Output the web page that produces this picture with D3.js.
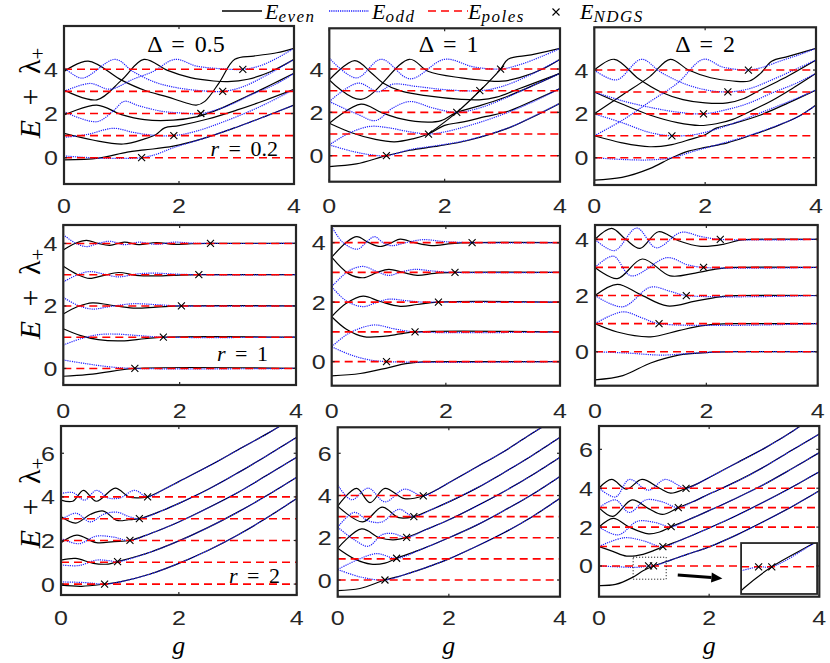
<!DOCTYPE html>
<html>
<head>
<meta charset="utf-8">
<script src="https://cdn.jsdelivr.net/npm/d3@7"></script>
<style>
body { margin: 0; background: #fff; }
svg { display: block; }
.tk { font-family: "Liberation Sans", Arial, sans-serif; font-size: 20px; fill: #262626; }
.mth { font-family: "Liberation Serif", "DejaVu Serif", "Times New Roman", serif; fill: #000; }
</style>
</head>
<body>
<svg id="fig" width="830" height="663"></svg>
<script>
// ---- data (g, E + lambda) ----
const poles = [0, 1, 2, 3, 4];
const xTicks = [0, 2, 4];
const yTicksSmall = [0, 2, 4];
const yTicksBig = [0, 2, 4, 6];
const deltas = ["0.5", "1", "2"];
const rValues = ["0.2", "1", "2"];

// row 1 : r = 0.2
const tlEven = [
  [[0,-0.1],[0.6,-0.02],[1.1,0.25],[1.4,0.35],[1.9,0.52],[2.4,0.85],[3.0,1.38],[3.5,1.87],[4,2.38]],
  [[0,1.1],[0.5,0.8],[1.03,0.62],[1.4,0.85],[1.6,1.05],[1.75,1.35],[2.0,1.45],[2.5,1.75],[3.0,2.15],[3.5,2.6],[4,3.09]],
  [[0,1.93],[0.57,2.38],[1.0,1.95],[1.4,1.72],[1.9,1.7],[2.3,1.85],[2.7,2.2],[3.2,2.8],[3.6,3.3],[4,3.82]],
  [[0,3.06],[0.57,2.62],[1.0,3.51],[1.39,4.45],[1.8,3.95],[2.2,3.62],[2.6,3.47],[2.85,3.44],[3.2,3.55],[3.6,3.9],[4,4.45]],
  [[0,3.9],[0.42,4.37],[1.0,3.51],[1.4,3.05],[1.8,2.75],[2.1,2.5],[2.3,2.38],[2.45,2.55],[2.7,3.4],[2.97,4.45],[3.3,4.6],[3.7,4.75],[4,4.95]]
];
const tlOdd = [
  [[0,0.08],[0.6,-0.02],[1.0,-0.03],[1.35,0],[1.6,0.15],[1.9,0.45],[2.4,0.85],[3.0,1.38],[3.5,1.87],[4,2.38]],
  [[0,0.92],[0.4,1.05],[0.86,1.33],[1.2,1.15],[1.5,1.03],[1.91,1.0],[2.3,1.2],[2.8,1.65],[3.4,2.3],[4,3.09]],
  [[0,2.08],[0.57,1.63],[0.85,2.1],[1.05,2.55],[1.3,2.35],[1.7,2.1],[2.0,2.03],[2.38,2.0],[2.8,2.3],[3.3,2.9],[3.7,3.35],[4,3.82]],
  [[0,3.0],[0.45,3.36],[0.8,3.1],[1.2,3.55],[1.55,3.9],[1.93,4.45],[2.3,4.15],[2.7,4.03],[3.11,4.0],[3.4,4.15],[3.7,4.5],[4,4.95]],
  [[0,4.1],[0.31,3.6],[0.89,4.45],[1.2,3.9],[1.6,3.4],[2.0,3.15],[2.4,3.03],[2.76,3.0],[3.1,3.2],[3.5,3.7],[4,4.45]]
];
const tlCross = [[1.35,0],[1.91,1],[2.38,2],[2.76,3],[3.11,4]];

const tmEven = [
  [[0,-0.5],[0.47,-0.38],[0.99,0],[1.4,0.25],[1.9,0.45],[2.4,0.7],[3.1,1.27],[3.5,1.75],[4,2.42]],
  [[0,1.5],[0.4,1.05],[0.8,0.75],[1.13,0.64],[1.45,0.78],[1.72,1.0],[2.0,1.4],[2.3,1.55],[2.7,1.8],[3.1,2.05],[3.5,2.5],[4,3.1]],
  [[1.72,1.0],[2.21,2.0],[2.61,3.0],[2.97,4.0],[3.1,4.45],[3.5,4.65],[4,4.95]],
  [[0,1.5],[0.55,2.38],[0.9,2.0],[1.25,1.7],[1.71,1.55],[1.94,1.62],[2.21,2.0],[2.6,2.3],[3.0,2.65],[3.5,3.2],[4,3.8]],
  [[0,3.5],[0.55,2.6],[1.39,4.45],[1.71,3.9],[2.29,3.59],[2.7,3.47],[3.0,3.44],[3.3,3.6],[3.7,4.0],[4,4.45]],
  [[0,3.5],[0.44,4.39],[0.73,3.82],[0.93,3.36],[1.25,2.98],[1.71,2.76],[2.29,2.6],[2.6,2.58],[2.9,2.7],[3.3,3.1],[3.7,3.5],[4,3.8]]
];
const tmOdd = [
  [[0,0.5],[0.4,0.2],[0.7,0.05],[0.99,0],[1.4,0.28],[1.9,0.48],[2.4,0.72],[3.1,1.28],[3.5,1.76],[4,2.42]],
  [[0,0.5],[0.35,1.05],[0.7,1.35],[1.0,1.3],[1.4,1.1],[1.72,1.0],[2.0,1.1],[2.5,1.45],[3.0,1.9],[3.5,2.45],[4,3.1]],
  [[0,2.5],[0.5,1.9],[0.8,1.62],[1.1,2.2],[1.4,2.5],[1.8,2.2],[2.21,2.0],[2.6,2.2],[3.0,2.6],[3.5,3.2],[4,3.8]],
  [[0,2.5],[0.5,3.35],[0.85,2.95],[1.1,3.3],[1.5,3.2],[2.0,3.05],[2.61,3.0],[3.0,3.2],[3.5,3.75],[4,4.45]],
  [[0,4.5],[0.47,3.59],[0.9,4.45],[1.4,3.55],[2.0,4.45],[2.5,4.1],[2.97,4.0],[3.3,4.2],[3.7,4.6],[4,4.95]]
];
const tmCross = [[0.99,0],[1.72,1],[2.21,2],[2.61,3],[2.97,4]];

const trEven = [
  [[0,-1.02],[0.5,-0.9],[1.0,-0.5],[1.4,0],[1.7,0.3],[2.0,0.47],[2.4,0.68],[2.8,1.0],[3.3,1.45],[3.7,1.9],[4,2.4]],
  [[0,1.0],[0.5,0.68],[1.0,0.5],[1.4,0.6],[1.75,0.85],[2.0,1.05],[2.2,1.35],[2.5,1.55],[3.0,1.95],[3.5,2.5],[4,3.09]],
  [[0,3.0],[0.5,2.45],[1.0,1.95],[1.5,1.6],[1.9,1.47],[2.2,1.55],[2.5,1.75],[2.8,2.1],[3.2,2.6],[3.6,3.2],[4,3.85]],
  [[0,2.0],[0.5,2.85],[1.0,3.7],[1.37,4.49],[1.7,4.0],[2.1,3.65],[2.5,3.5],[2.8,3.5],[3.0,3.85],[3.2,4.4],[3.5,4.62],[4,4.99]],
  [[0,4.0],[0.36,4.49],[0.8,3.6],[1.2,3.0],[1.6,2.65],[2.0,2.5],[2.4,2.5],[2.7,2.7],[3.0,3.1],[3.4,3.6],[4,4.46]]
];
const trOdd = [
  [[0,0],[0.5,-0.08],[1.0,-0.1],[1.4,0],[1.8,0.3],[2.2,0.58],[2.8,1.02],[3.3,1.47],[3.7,1.9],[4,2.4]],
  [[0,1.0],[0.5,1.7],[1.0,2.55],[1.5,3.4],[1.97,4.49],[2.3,4.15],[2.6,4.02],[2.78,4.0],[3.0,4.1],[3.4,4.45],[3.7,4.7],[4,4.99]],
  [[0,2.0],[0.5,1.6],[1.0,1.15],[1.4,1.0],[1.8,1.05],[2.2,1.3],[2.6,1.65],[3.0,2.05],[3.5,2.55],[4,3.09]],
  [[0,3.0],[0.5,2.6],[1.0,2.3],[1.5,2.08],[1.97,2.0],[2.4,2.2],[2.8,2.5],[3.2,2.95],[3.6,3.35],[4,3.85]],
  [[0,4.0],[0.4,3.55],[0.85,4.49],[1.2,3.9],[1.6,3.4],[2.0,3.1],[2.41,3.0],[2.8,3.15],[3.2,3.55],[3.6,4.0],[4,4.46]]
];
const trCross = [[1.4,1],[1.97,2],[2.41,3],[2.78,4]];

// row 2 : r = 1
const mlEven = [
  [[0,-0.25],[0.4,-0.2],[0.8,-0.1],[1.23,0],[4,0]],
  [[0,1.27],[0.3,1.05],[0.6,0.92],[1.0,0.88],[1.4,0.95],[1.72,1.0],[4,1]],
  [[0,1.74],[0.25,1.98],[0.5,2.1],[0.8,2.03],[1.2,1.93],[1.6,1.96],[2.03,2.0],[4,2]],
  [[0,3.27],[0.25,3.0],[0.45,2.88],[0.7,2.98],[0.95,3.07],[1.25,2.98],[1.55,2.96],[1.9,2.98],[2.33,3.0],[4,3]],
  [[0,3.79],[0.2,4.0],[0.4,4.1],[0.6,4.0],[0.8,3.94],[1.05,4.04],[1.3,3.96],[1.6,4.03],[1.9,3.97],[2.2,3.99],[2.53,4.0],[4,4]]
];
const mlOdd = [
  [[0,0.27],[0.4,0.15],[0.8,0.05],[1.23,0],[4,0]],
  [[0,0.75],[0.3,0.95],[0.6,1.08],[0.9,1.1],[1.3,1.05],[1.72,1.0],[4,1]],
  [[0,2.27],[0.25,2.02],[0.5,1.9],[0.8,1.98],[1.2,2.07],[1.6,2.04],[2.03,2.0],[4,2]],
  [[0,2.77],[0.25,3.0],[0.45,3.1],[0.7,3.02],[0.95,2.93],[1.25,3.02],[1.55,3.05],[1.9,3.02],[2.33,3.0],[4,3]],
  [[0,4.28],[0.2,4.02],[0.4,3.9],[0.6,4.0],[0.8,4.07],[1.05,3.96],[1.3,4.04],[1.6,3.97],[1.9,4.04],[2.2,4.01],[2.53,4.0],[4,4]]
];
const mlCross = [[1.23,0],[1.72,1],[2.03,2],[2.33,3],[2.53,4]];

const mmEven = [
  [[0,-0.48],[0.5,-0.4],[1.0,-0.2],[1.3,-0.07],[1.6,-0.01],[2.0,0],[4,0]],
  [[0,1.51],[0.25,1.1],[0.56,0.84],[0.9,0.85],[1.2,0.93],[1.46,1.0],[4,1]],
  [[0,1.51],[0.25,1.95],[0.55,2.2],[0.85,2.02],[1.2,1.86],[1.5,1.92],[1.87,2.0],[4,2]],
  [[0,3.51],[0.3,2.95],[0.55,2.82],[0.8,3.0],[1.0,3.1],[1.25,3.0],[1.5,2.9],[1.8,2.97],[2.16,3.0],[4,3]],
  [[0,3.51],[0.25,4.0],[0.44,4.2],[0.65,4.0],[0.85,3.87],[1.05,4.0],[1.2,4.12],[1.45,4.0],[1.75,3.9],[2.1,3.97],[2.46,4.0],[4,4]]
];
const mmOdd = [
  [[0,0.5],[0.3,0.25],[0.6,0.08],[0.96,0],[4,0]],
  [[0,0.5],[0.3,0.95],[0.73,1.23],[1.1,1.1],[1.46,1.0],[4,1]],
  [[0,2.52],[0.25,2.05],[0.55,1.85],[0.8,2.0],[1.0,2.1],[1.3,2.05],[1.6,2.0],[1.87,2.0],[4,2]],
  [[0,2.52],[0.3,3.05],[0.55,3.2],[0.8,3.02],[1.0,2.9],[1.2,3.0],[1.45,3.1],[1.8,3.04],[2.16,3.0],[4,3]],
  [[0,4.54],[0.2,4.0],[0.45,3.78],[0.6,4.0],[0.75,4.2],[0.9,4.0],[1.05,3.9],[1.3,4.0],[1.6,4.1],[2.0,4.03],[2.46,4.0],[4,4]]
];
const mmCross = [[0.96,0],[1.46,1],[1.87,2],[2.16,3],[2.46,4]];

const mrEven = [
  [[0,-1.0],[0.5,-0.85],[1.0,-0.4],[1.5,-0.12],[2.0,-0.03],[2.5,0],[4,0]],
  [[0,1.0],[0.4,0.7],[1.0,0.53],[1.5,0.75],[1.9,0.92],[2.3,0.99],[2.6,1.0],[4,1]],
  [[0,2.0],[0.4,2.4],[0.8,2.05],[1.3,1.63],[1.8,1.8],[2.3,1.97],[2.6,2.0],[4,2]],
  [[0,3.0],[0.4,2.6],[0.85,3.3],[1.35,2.7],[1.8,2.8],[2.2,2.95],[2.5,3.0],[4,3]],
  [[0,4.0],[0.3,4.39],[0.55,4.0],[0.81,3.68],[1.14,4.27],[1.5,3.95],[1.9,3.75],[2.3,3.82],[2.6,3.97],[2.9,4.0],[4,4]]
];
const mrOdd = [
  [[0,0],[0.6,-0.05],[1.2,-0.12],[1.8,-0.05],[2.5,0],[4,0]],
  [[0,1.0],[0.5,1.42],[0.85,1.2],[1.15,1.0],[4,1]],
  [[0,2.0],[0.5,1.6],[1.0,2.3],[1.35,2.15],[1.64,2.0],[4,2]],
  [[0,3.0],[0.33,3.4],[0.65,2.7],[1.3,3.35],[1.65,3.1],[1.95,3.0],[4,3]],
  [[0,4.0],[0.35,3.6],[0.75,4.4],[1.1,3.7],[1.55,4.25],[1.9,4.1],[2.25,4.0],[4,4]]
];
const mrCross = [[1.15,1],[1.64,2],[1.95,3],[2.25,4]];

// row 3 : r = 2 (left wiggles, then a shared rising branch per level)
const blEven = [
  [[0,-0.05],[0.35,-0.1],[0.74,0]],
  [[0,1.1],[0.25,1.18],[0.55,0.95],[0.8,0.92],[0.96,1.03]],
  [[0,1.9],[0.27,2.25],[0.6,1.9],[0.9,1.95],[1.17,2.0]],
  [[0,3.1],[0.25,2.8],[0.5,3.2],[0.72,3.35],[0.95,2.92],[1.15,2.95],[1.33,3.0]],
  [[0,3.85],[0.2,3.8],[0.38,4.3],[0.6,3.8],[0.92,4.4],[1.15,4.0],[1.3,3.95],[1.47,4.0]]
];
const blOdd = [
  [[0,0.1],[0.4,0.07],[0.74,0]],
  [[0,0.88],[0.3,0.85],[0.6,1.1],[0.8,1.08],[0.96,1.03]],
  [[0,2.1],[0.3,1.85],[0.6,2.2],[0.9,2.15],[1.17,2.0]],
  [[0,2.94],[0.25,3.25],[0.5,2.85],[0.72,3.2],[0.95,3.3],[1.15,3.1],[1.33,3.0]],
  [[0,4.15],[0.2,4.2],[0.4,3.85],[0.6,4.3],[0.8,3.95],[1.0,3.95],[1.25,4.3],[1.47,4.0]]
];
const blRise = [
  [[0.74,0],[1.0,0.1],[1.5,0.45],[2.0,0.95],[2.5,1.55],[3.0,2.25],[3.5,3.05],[4,3.93]],
  [[0.96,1.03],[1.5,1.45],[2.0,1.98],[2.5,2.6],[3.0,3.3],[3.5,4.07],[4,4.9]],
  [[1.17,2.0],[1.5,2.3],[2.0,2.85],[2.5,3.5],[3.0,4.2],[3.5,5.0],[4,5.82]],
  [[1.33,3.0],[1.7,3.35],[2.0,3.7],[2.5,4.35],[3.0,5.1],[3.5,5.9],[4,6.73]],
  [[1.47,4.0],[1.75,4.35],[2.0,4.7],[2.5,5.4],[3.0,6.15],[3.5,6.9],[3.75,7.3]]
];
const blCross = [[0.74,0],[0.96,1.03],[1.17,2.0],[1.33,3.0],[1.47,4.0]];

const bmEven = [
  [[0,-0.5],[0.4,-0.4],[0.85,0]],
  [[0,1.5],[0.3,1.0],[0.6,0.75],[0.85,0.8],[1.06,1.03]],
  [[0,1.5],[0.43,2.42],[0.75,2.0],[1.0,1.9],[1.24,2.02]],
  [[0,3.5],[0.45,2.75],[0.8,3.45],[1.1,2.95],[1.37,3.0]],
  [[0,3.5],[0.34,4.34],[0.58,3.66],[0.85,4.34],[1.2,3.85],[1.54,3.98]]
];
const bmOdd = [
  [[0,0.5],[0.4,0.15],[0.85,0]],
  [[0,0.5],[0.35,0.95],[0.7,1.25],[1.06,1.03]],
  [[0,2.5],[0.3,1.9],[0.55,1.6],[0.8,2.15],[1.0,2.2],[1.24,2.02]],
  [[0,2.5],[0.3,3.2],[0.55,2.8],[0.8,2.75],[1.1,3.35],[1.37,3.0]],
  [[0,4.5],[0.25,3.8],[0.55,4.35],[0.85,3.7],[1.2,4.3],[1.54,3.98]]
];
const bmRise = [
  [[0.85,0],[1.2,0.25],[1.6,0.6],[2.0,1.0],[2.5,1.6],[3.0,2.25],[3.5,3.0],[4,3.87]],
  [[1.06,1.03],[1.5,1.45],[2.0,2.0],[2.5,2.6],[3.0,3.3],[3.5,4.05],[4,4.9]],
  [[1.24,2.02],[1.6,2.4],[2.0,2.85],[2.5,3.5],[3.0,4.2],[3.5,4.97],[4,5.81]],
  [[1.37,3.0],[1.7,3.35],[2.0,3.7],[2.5,4.35],[3.0,5.1],[3.5,5.9],[4,6.76]],
  [[1.54,3.98],[1.8,4.3],[2.0,4.6],[2.5,5.35],[3.0,6.1],[3.5,6.95],[3.72,7.3]]
];
const bmCross = [[0.85,0],[1.06,1.03],[1.24,2.02],[1.37,3.0],[1.54,3.98]];

const brEven = [
  [[0,-1.01],[0.3,-0.95],[0.6,-0.6],[0.8,-0.25],[0.99,0]],
  [[0,1.0],[0.25,0.75],[0.5,0.51],[0.8,0.6],[1.0,0.8],[1.16,0.99]],
  [[0,2.0],[0.26,2.45],[0.55,2.0],[0.9,1.65],[1.1,1.75],[1.31,2.02]],
  [[0,3.0],[0.25,2.55],[0.6,3.4],[0.9,2.95],[1.15,2.65],[1.44,3.0]],
  [[0,4.0],[0.23,4.45],[0.5,3.95],[0.78,4.45],[1.1,4.0],[1.3,3.75],[1.58,3.99]]
];
const brOdd = [
  [[0,0],[0.4,-0.05],[0.7,-0.07],[0.9,0]],
  [[0,1.0],[0.45,1.45],[0.8,1.3],[1.16,0.99]],
  [[0,2.0],[0.35,1.6],[0.7,2.3],[1.0,2.25],[1.31,2.02]],
  [[0,3.0],[0.3,3.4],[0.55,2.75],[0.85,3.4],[1.15,3.3],[1.44,3.0]],
  [[0,4.0],[0.3,3.55],[0.55,4.45],[0.9,3.9],[1.2,4.45],[1.58,3.99]]
];
const brRise = [
  [[0.99,0],[1.3,0.3],[1.6,0.6],[2.0,0.98],[2.5,1.6],[3.0,2.3],[3.5,3.05],[4,3.87]],
  [[1.16,0.99],[1.5,1.35],[2.0,1.95],[2.5,2.6],[3.0,3.3],[3.5,4.05],[4,4.85]],
  [[1.31,2.02],[1.6,2.35],[2.0,2.85],[2.5,3.5],[3.0,4.2],[3.5,5.0],[4,5.83]],
  [[1.44,3.0],[1.7,3.3],[2.0,3.7],[2.5,4.35],[3.0,5.1],[3.5,5.95],[4,6.79]],
  [[1.58,3.99],[1.8,4.25],[2.0,4.55],[2.5,5.3],[3.0,6.05],[3.5,6.9],[3.75,7.4]]
];
const brCross = [[0.9,0],[0.99,0],[1.16,0.99],[1.31,2.02],[1.44,3.0],[1.58,3.99]];

// zoom window shown in the inset of the last panel
const zoomBox = { g: [0.62, 1.22], e: [-0.68, 0.45] };
const insetView = { g: [0.78, 1.3], e: [-0.32, 0.28] };
const insetPlace = { g: [2.58, 3.96], e: [-1.44, 1.18] };
const arrowPts = [[1.43, -0.46], [2.24, -0.64]];

// ---- layout ----
const layout = [
  { x: [64, 294],    y: [26, 184],      dom: [-1.19, 5.96] },
  { x: [329.3, 560], y: [28.3, 181.7],  dom: [-1.2, 5.88] },
  { x: [594.3, 816], y: [27.3, 185],    dom: [-1.245, 5.95] },
  { x: [63.3, 296],  y: [225, 385],     dom: [-0.53, 4.59] },
  { x: [331.7, 560], y: [226, 385.7],   dom: [-0.81, 4.56] },
  { x: [595, 817.7], y: [225, 385.7],   dom: [-1.21, 4.51] },
  { x: [61, 296.7],  y: [426, 595],     dom: [-0.5, 7.25] },
  { x: [337.7, 560], y: [427.3, 596.7], dom: [-0.79, 7.23] },
  { x: [599, 819.3], y: [426, 596.7],   dom: [-1.58, 7.2] }
];
const sets = [
  { even: tlEven, odd: tlOdd, rise: null, cross: tlCross },
  { even: tmEven, odd: tmOdd, rise: null, cross: tmCross },
  { even: trEven, odd: trOdd, rise: null, cross: trCross },
  { even: mlEven, odd: mlOdd, rise: null, cross: mlCross },
  { even: mmEven, odd: mmOdd, rise: null, cross: mmCross },
  { even: mrEven, odd: mrOdd, rise: null, cross: mrCross },
  { even: blEven, odd: blOdd, rise: blRise, cross: blCross },
  { even: bmEven, odd: bmOdd, rise: bmRise, cross: bmCross },
  { even: brEven, odd: brOdd, rise: brRise, cross: brCross }
];
const tickBase = [213, 418, 625];
const ylabMid = [93, 294, 503];
const rLabelPos = [[278, 156], [268, 361], [280, 583]];

const AX = "#262626";
const BLUE = "#2020ff";
const svg = d3.select("#fig");
const defs = svg.append("defs");

function joinPts(left, rise) {
  let pts = rise ? left.concat(rise) : left.slice();
  return pts.filter((p, i) => i === 0 || p[0] !== pts[i - 1][0] || p[1] !== pts[i - 1][1]);
}

function drawCurves(grp, x, y, set, onlyFirst) {
  let line = d3.line()
    .x(d => x(d[0]))
    .y(d => y(d[1]))
    .curve(d3.curveCatmullRom.alpha(0.5));
  let evens = set.even.map((c, i) => joinPts(c, set.rise ? set.rise[i] : null));
  let odds = set.odd.map((c, i) => joinPts(c, set.rise ? set.rise[i] : null));
  if (onlyFirst) { evens = evens.slice(0, 1); odds = odds.slice(0, 1); }

  grp.selectAll(".ev").data(evens).join("path").attr("class", "ev")
    .attr("d", line).attr("fill", "none")
    .attr("stroke", "#000").attr("stroke-width", 1.2);
  grp.selectAll(".od").data(odds).join("path").attr("class", "od")
    .attr("d", line).attr("fill", "none")
    .attr("stroke", BLUE).attr("stroke-width", 1.2)
    .attr("stroke-dasharray", "1.2,1");
  grp.selectAll(".pl").data(onlyFirst ? [0] : poles).join("line").attr("class", "pl")
    .attr("x1", x(0)).attr("x2", x(4))
    .attr("y1", d => y(d)).attr("y2", d => y(d))
    .attr("stroke", "#ff0000").attr("stroke-width", 1.6)
    .attr("stroke-dasharray", "8,5");
}

function drawCrosses(grp, x, y, pts) {
  let s = 3.5;
  grp.selectAll(".cx").data(pts).join("path").attr("class", "cx")
    .attr("d", d => {
      let px = x(d[0]), py = y(d[1]);
      return `M${px - s},${py - s}L${px + s},${py + s}M${px - s},${py + s}L${px + s},${py - s}`;
    })
    .attr("stroke", "#000").attr("stroke-width", 1.1).attr("fill", "none");
}

layout.forEach((L, k) => {
  let row = Math.floor(k / 3), col = k % 3;
  let set = sets[k];
  let x = d3.scaleLinear().domain([0, 4]).range(L.x);
  let y = d3.scaleLinear().domain(L.dom).range([L.y[1], L.y[0]]);
  let yTicks = row === 2 ? yTicksBig : yTicksSmall;

  defs.append("clipPath").attr("id", "clip" + k)
    .append("rect")
    .attr("x", L.x[0]).attr("y", L.y[0])
    .attr("width", L.x[1] - L.x[0]).attr("height", L.y[1] - L.y[0]);

  let pg = svg.append("g").attr("clip-path", `url(#clip${k})`);
  drawCurves(pg, x, y, set, false);
  drawCrosses(pg, x, y, set.cross);

  // annotations in the last panel
  if (k === 8) {
    pg.append("rect")
      .attr("x", x(zoomBox.g[0])).attr("y", y(zoomBox.e[1]))
      .attr("width", x(zoomBox.g[1]) - x(zoomBox.g[0]))
      .attr("height", y(zoomBox.e[0]) - y(zoomBox.e[1]))
      .attr("fill", "none").attr("stroke", "#000")
      .attr("stroke-width", 1).attr("stroke-dasharray", "1,2");

    let a0 = [x(arrowPts[0][0]), y(arrowPts[0][1])];
    let a1 = [x(arrowPts[1][0]), y(arrowPts[1][1])];
    let ang = Math.atan2(a1[1] - a0[1], a1[0] - a0[0]);
    let hl = 11, hw = 5;
    let bx = a1[0] - hl * Math.cos(ang), by = a1[1] - hl * Math.sin(ang);
    pg.append("line")
      .attr("x1", a0[0]).attr("y1", a0[1]).attr("x2", bx).attr("y2", by)
      .attr("stroke", "#000").attr("stroke-width", 3);
    pg.append("path")
      .attr("d", `M${a1[0]},${a1[1]}L${bx - hw * Math.sin(ang)},${by + hw * Math.cos(ang)}L${bx + hw * Math.sin(ang)},${by - hw * Math.cos(ang)}Z`)
      .attr("fill", "#000");

    let ix0 = x(insetPlace.g[0]), ix1 = x(insetPlace.g[1]);
    let iy0 = y(insetPlace.e[1]), iy1 = y(insetPlace.e[0]);
    let ixs = d3.scaleLinear().domain(insetView.g).range([ix0, ix1]);
    let iys = d3.scaleLinear().domain(insetView.e).range([iy1, iy0]);
    svg.append("rect").attr("x", ix0).attr("y", iy0)
      .attr("width", ix1 - ix0).attr("height", iy1 - iy0).attr("fill", "#fff");
    defs.append("clipPath").attr("id", "clipInset")
      .append("rect").attr("x", ix0).attr("y", iy0)
      .attr("width", ix1 - ix0).attr("height", iy1 - iy0);
    let ig = svg.append("g").attr("clip-path", "url(#clipInset)");
    drawCurves(ig, ixs, iys, set, true);
    ig.selectAll(".pl").attr("x1", ix0).attr("x2", ix1);
    drawCrosses(ig, ixs, iys, set.cross.slice(0, 2));
    svg.append("rect").attr("x", ix0).attr("y", iy0)
      .attr("width", ix1 - ix0).attr("height", iy1 - iy0)
      .attr("fill", "none").attr("stroke", AX).attr("stroke-width", 1.8);
  }

  // frame and ticks
  let ax = svg.append("g");
  xTicks.forEach(t => {
    ax.append("line").attr("x1", x(t)).attr("x2", x(t)).attr("y1", L.y[1]).attr("y2", L.y[1] - 3)
      .attr("stroke", AX).attr("stroke-width", 1.2);
    ax.append("line").attr("x1", x(t)).attr("x2", x(t)).attr("y1", L.y[0]).attr("y2", L.y[0] + 3)
      .attr("stroke", AX).attr("stroke-width", 1.2);
    ax.append("text").attr("class", "tk")
      .attr("transform", `translate(${x(t)},${tickBase[row]}) scale(1.25,1)`)
      .attr("text-anchor", "middle").text(t);
  });
  yTicks.forEach(t => {
    ax.append("line").attr("x1", L.x[0]).attr("x2", L.x[0] + 3).attr("y1", y(t)).attr("y2", y(t))
      .attr("stroke", AX).attr("stroke-width", 1.2);
    ax.append("line").attr("x1", L.x[1]).attr("x2", L.x[1] - 3).attr("y1", y(t)).attr("y2", y(t))
      .attr("stroke", AX).attr("stroke-width", 1.2);
    ax.append("text").attr("class", "tk")
      .attr("transform", `translate(${L.x[0] - 6},${y(t) + 7.5}) scale(1.25,1)`)
      .attr("text-anchor", "end").text(t);
  });
  ax.append("rect")
    .attr("x", L.x[0]).attr("y", L.y[0])
    .attr("width", L.x[1] - L.x[0]).attr("height", L.y[1] - L.y[0])
    .attr("fill", "none").attr("stroke", AX).attr("stroke-width", 2.2);

  if (row === 0) {
    svg.append("text").attr("class", "mth")
      .attr("x", (L.x[0] + L.x[1]) / 2 + (col === 0 ? 7 : col === 1 ? 4 : 0)).attr("y", 52)
      .attr("text-anchor", "middle").attr("font-size", 24)
      .attr("word-spacing", 4)
      .text("Δ = " + deltas[col]);
  }
  if (col === 0) {
    let t = svg.append("text").attr("class", "mth")
      .attr("x", rLabelPos[row][0]).attr("y", rLabelPos[row][1])
      .attr("text-anchor", "end").attr("font-size", 22).attr("word-spacing", 4);
    t.append("tspan").attr("font-style", "italic").text("r");
    t.append("tspan").text(" = " + rValues[row]);

    let yl = svg.append("text").attr("class", "mth")
      .attr("transform", `translate(40,${ylabMid[row]}) rotate(-90)`)
      .attr("text-anchor", "middle").attr("font-size", 30).attr("word-spacing", 7);
    yl.append("tspan").attr("font-style", "italic").text("E");
    yl.append("tspan").text(" + λ");
    yl.append("tspan").attr("font-size", 21).attr("dy", 5).text("+");
  }
  if (row === 2) {
    svg.append("text").attr("class", "mth")
      .attr("x", (L.x[0] + L.x[1]) / 2).attr("y", 654)
      .attr("text-anchor", "middle").attr("font-size", 26).attr("font-style", "italic")
      .text("g");
  }
});

// ---- legend ----
const lg = svg.append("g");
const legendItems = [
  { sub: "even", x0: 222, tx: 265, kind: "solid" },
  { sub: "odd", x0: 329, tx: 372, kind: "dot" },
  { sub: "poles", x0: 428, tx: 468, kind: "dash" },
  { sub: "NDGS", x0: 552, tx: 580, kind: "cross" }
];
legendItems.forEach(it => {
  if (it.kind === "cross") {
    let cx = 556, cy = 12, s = 3.5;
    lg.append("path")
      .attr("d", `M${cx - s},${cy - s}L${cx + s},${cy + s}M${cx - s},${cy + s}L${cx + s},${cy - s}`)
      .attr("stroke", "#000").attr("stroke-width", 1.1);
  } else {
    let ln = lg.append("line").attr("x1", it.x0).attr("x2", it.x0 + 40)
      .attr("y1", 11).attr("y2", 11).attr("stroke-width", it.kind === "dash" ? 1.6 : 1.3);
    if (it.kind === "solid") ln.attr("stroke", "#000");
    if (it.kind === "dot") ln.attr("stroke", BLUE).attr("stroke-dasharray", "1.2,1");
    if (it.kind === "dash") ln.attr("stroke", "#ff0000").attr("stroke-dasharray", "8,5");
  }
  let t = lg.append("text").attr("class", "mth").attr("x", it.tx).attr("y", 19);
  t.append("tspan").attr("font-size", 22).attr("font-style", "italic").text("E");
  t.append("tspan").attr("font-size", 17).attr("font-style", "italic")
    .attr("letter-spacing", 1.5).attr("dy", 3).text(it.sub);
});
</script>
</body>
</html>
